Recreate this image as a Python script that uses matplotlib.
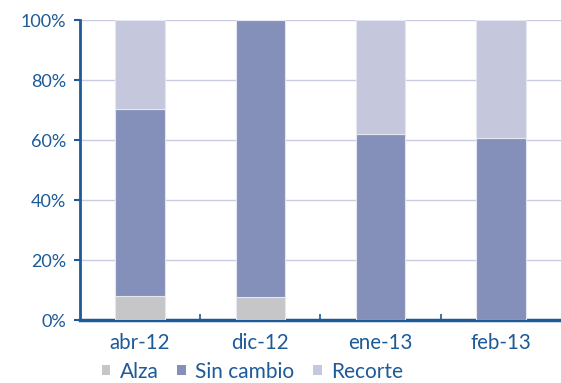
import matplotlib
matplotlib.use("Agg")
import matplotlib.pyplot as plt
import numpy as np
from matplotlib.patches import Patch
from matplotlib.ticker import FixedLocator

categories = ["abr-12", "dic-12", "ene-13", "feb-13"]
alza = [8.2, 7.7, 0.0, 0.0]
sin_cambio = [62.4, 92.3, 62.3, 60.9]
recorte = [29.4, 0.0, 37.7, 39.1]
series_names = ["Alza", "Sin cambio", "Recorte"]
y_ticks = [0, 20, 40, 60, 80, 100]
y_labels = ["0%", "20%", "40%", "60%", "80%", "100%"]

c_alza = "#c6c6c8"
c_sin = "#8490b9"
c_rec = "#c5c8dd"
c_text = "#1d5a97"
c_axis = "#1d5a97"
c_grid = "#c8cbe2"

plt.rcParams["font.family"] = ["Lato", "DejaVu Sans"]

fig = plt.figure(figsize=(5.61, 3.83), dpi=100)
ax = fig.add_axes([0.1426, 0.1632, 0.8574, 0.7833])

x = np.arange(len(categories))
w = 0.41
edge = dict(edgecolor="#e4e6f0", linewidth=0.8)
ax.bar(x, alza, w, color=c_alza, zorder=3, **edge)
ax.bar(x, sin_cambio, w, bottom=alza, color=c_sin, zorder=3, **edge)
bottom2 = np.array(alza) + np.array(sin_cambio)
ax.bar(x, recorte, w, bottom=bottom2, color=c_rec, zorder=3, **edge)

ax.set_xlim(-0.5, 3.5)
ax.set_ylim(0, 100)
ax.set_yticks(y_ticks)
ax.set_yticklabels(y_labels)
ax.set_xticks(x)
ax.set_xticklabels(categories)
ax.xaxis.set_minor_locator(FixedLocator([0.5, 1.5, 2.5]))

ax.yaxis.grid(True, color=c_grid, linewidth=1.0, zorder=0)
ax.set_axisbelow(True)

for s in ["top", "right"]:
    ax.spines[s].set_visible(False)
ax.spines["left"].set_color(c_axis)
ax.spines["left"].set_linewidth(2.0)
ax.spines["bottom"].set_color(c_axis)
ax.spines["bottom"].set_linewidth(2.5)

ax.tick_params(axis="y", colors=c_axis, labelcolor=c_text, labelsize=13,
               length=4, width=1.5, direction="out", pad=6)
ax.tick_params(axis="x", which="major", length=0, labelcolor=c_text,
               labelsize=14.8, pad=9)
ax.tick_params(axis="x", which="minor", length=4, width=1.2,
               direction="in", colors=c_axis)

handles = [Patch(facecolor=c_alza, edgecolor="none"),
           Patch(facecolor=c_sin, edgecolor="none"),
           Patch(facecolor=c_rec, edgecolor="none")]
fig.legend(handles, series_names, loc="center", bbox_to_anchor=(0.45, 0.03),
           ncol=3, frameon=False, fontsize=15, labelcolor=c_text,
           handlelength=0.42, handleheight=0.42, handletextpad=0.45,
           columnspacing=0.9, borderpad=0)

fig.savefig("out.png", dpi=100)
